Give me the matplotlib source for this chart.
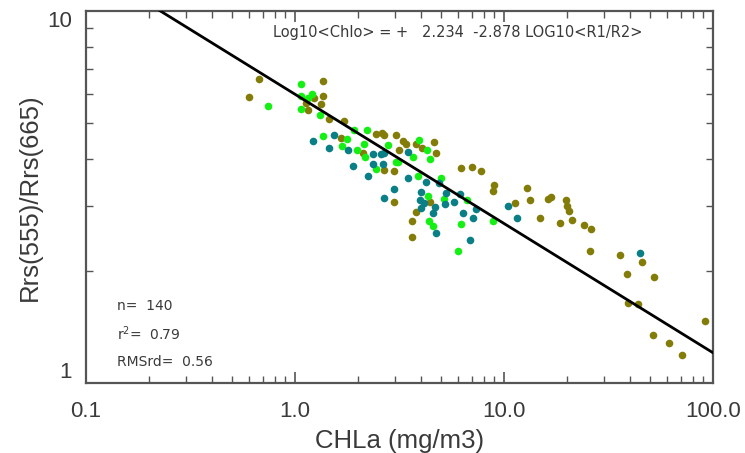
import matplotlib
matplotlib.use("Agg")
import matplotlib.pyplot as plt
import numpy as np
from matplotlib.ticker import LogLocator, FixedLocator, FixedFormatter, NullFormatter

# ---- data (CHLa mg/m3, Rrs(555)/Rrs(665)) ----
olive_chl = [0.604, 0.673, 1.357, 1.361, 1.237, 1.336, 1.133, 1.150, 1.455, 1.715,
             1.660, 2.433, 2.598, 2.680, 3.043, 3.286, 3.397, 3.793, 4.038, 4.640,
             4.712, 2.108, 2.676, 2.983, 3.155, 2.986, 4.424, 3.781, 3.641, 3.641,
             6.26, 7.03, 7.72, 8.96, 8.86, 12.95, 13.36, 11.33, 16.24, 16.79,
             19.81, 20.02, 20.46, 21.08, 14.87, 18.53, 24.22, 26.22, 25.93, 35.89,
             45.74, 38.78, 52.49, 39.33, 43.63, 51.81, 61.38, 71.30, 91.27]
olive_ratio = [5.88, 6.58, 6.47, 5.90, 5.83, 5.63, 5.65, 5.42, 5.13, 5.06,
               4.55, 4.67, 4.70, 4.63, 4.63, 4.47, 4.40, 4.40, 4.27, 4.44,
               4.16, 4.16, 3.73, 3.72, 4.23, 3.06, 3.06, 2.89, 2.72, 2.47,
               3.78, 3.81, 3.72, 3.40, 3.29, 3.34, 3.10, 3.04, 3.12, 3.16,
               3.11, 2.99, 2.90, 2.74, 2.77, 2.69, 2.66, 2.59, 2.27, 2.21,
               2.11, 1.96, 1.93, 1.645, 1.635, 1.342, 1.281, 1.189, 1.468]

green_chl = [1.072, 1.212, 1.068, 1.158, 0.740, 1.072, 1.317, 1.921, 2.203, 1.358,
             1.779, 1.682, 1.987, 2.150, 2.162, 2.435, 2.771, 3.026, 3.127, 3.658,
             3.911, 4.281, 4.440, 3.898, 4.970, 4.305, 5.152, 6.637, 4.362, 4.599,
             6.26, 6.044, 8.83]
green_ratio = [6.38, 5.97, 5.90, 5.85, 5.56, 5.44, 5.25, 4.78, 4.78, 4.61,
               4.54, 4.34, 4.22, 4.38, 4.04, 3.75, 4.37, 3.93, 3.92, 4.04,
               4.49, 4.22, 3.99, 3.61, 3.56, 3.19, 3.12, 3.11, 2.72, 2.64,
               2.67, 2.26, 2.73]

teal_chl = [1.226, 1.537, 1.455, 1.799, 1.885, 2.354, 2.570, 2.680, 2.369, 2.646,
            2.242, 3.454, 3.454, 4.248, 4.898, 2.967, 2.666, 3.994, 3.977, 4.130,
            4.016, 4.676, 5.307, 5.765, 5.220, 4.549, 4.727, 6.366, 7.07, 6.852,
            7.345, 6.16, 10.45, 11.51, 44.50]
teal_ratio = [4.48, 4.65, 4.28, 4.22, 3.82, 4.13, 4.12, 4.15, 3.87, 3.88,
              3.61, 4.18, 3.55, 3.47, 3.45, 3.33, 3.15, 3.26, 3.10, 3.05,
              2.95, 2.98, 3.25, 3.07, 3.02, 2.87, 2.53, 2.87, 2.78, 2.42,
              2.93, 3.22, 3.00, 2.78, 2.24]

# regression: Log10(Chla) = a + b * Log10(R1/R2)
fit_a = 2.234
fit_b = -2.878
equation = "Log10<Chlo> = +   2.234  -2.878 LOG10<R1/R2>"
stats_lines = ["n=  140", r"r$^2$=  0.79", "RMSrd=  0.56"]
x_ticks = [0.1, 1.0, 10.0, 100.0]
x_ticklabels = ["0.1", "1.0", "10.0", "100.0"]
y_ticks = [1, 10]
y_ticklabels = ["1", "10"]

plt.rcParams['font.family'] = ['Liberation Sans', 'DejaVu Sans']
txt_color = "#3a3a3a"

fig = plt.figure(figsize=(7.45, 4.53), dpi=100)
ax = fig.add_axes([86/745, 70/453, 627/745, 372/453])
ax.set_xscale('log')
ax.set_yscale('log')
ax.set_xlim(0.1, 100.0)
ax.set_ylim(1, 10)

ms = 30
ax.scatter(olive_chl, olive_ratio, s=ms, color="#847c08", linewidths=0, zorder=2)
ax.scatter(green_chl, green_ratio, s=ms, color="#14f014", linewidths=0, zorder=2)
ax.scatter(teal_chl, teal_ratio, s=ms, color="#0a7f86", linewidths=0, zorder=2)

chl_line = np.logspace(-1, 2, 200)
ratio_line = 10 ** ((np.log10(chl_line) - fit_a) / fit_b)
ax.plot(chl_line, ratio_line, color="black", lw=2.0, zorder=3)

for s in ax.spines.values():
    s.set_color("#555555")
    s.set_linewidth(1.6)

ax.xaxis.set_major_locator(FixedLocator(x_ticks))
ax.xaxis.set_major_formatter(FixedFormatter(x_ticklabels))
ax.yaxis.set_major_locator(FixedLocator(y_ticks))
ax.yaxis.set_major_formatter(FixedFormatter(y_ticklabels))
ax.xaxis.set_minor_locator(LogLocator(base=10, subs=np.arange(2, 10)))
ax.yaxis.set_minor_locator(LogLocator(base=10, subs=np.arange(2, 10)))
ax.xaxis.set_minor_formatter(NullFormatter())
ax.yaxis.set_minor_formatter(NullFormatter())
ax.tick_params(which='both', direction='in', top=True, right=True,
               color="#555555", labelcolor=txt_color, labelsize=16)
ax.tick_params(which='major', length=8, width=1.2)
ax.tick_params(axis='x', which='major', pad=13)
ax.tick_params(axis='y', which='major', pad=10)
ax.tick_params(which='minor', length=5, width=1.0)

# IDL-style: end labels of the y axis sit inside the axis range
ylabs = ax.get_yticklabels()
ylabs[0].set_verticalalignment('bottom')
ylabs[-1].set_verticalalignment('top')

ax.set_xlabel("CHLa (mg/m3)", fontsize=18.5, color=txt_color, labelpad=5)
ax.set_ylabel("Rrs(555)/Rrs(665)", fontsize=18.5, color=txt_color, labelpad=4)

ann_font = ['DejaVu Sans']
ax.text((273-86)/627, (383-33)/372, equation, family=ann_font,
        transform=ax.transAxes, fontsize=10.5, color=txt_color, va='center')
ys = [306.5, 333.5, 361.5]
for t, yp in zip(stats_lines, ys):
    ax.text(117/745, (453 - yp)/453, t, transform=fig.transFigure, family=ann_font,
            fontsize=10, color=txt_color, va='center')

fig.savefig("out.png", dpi=100)
